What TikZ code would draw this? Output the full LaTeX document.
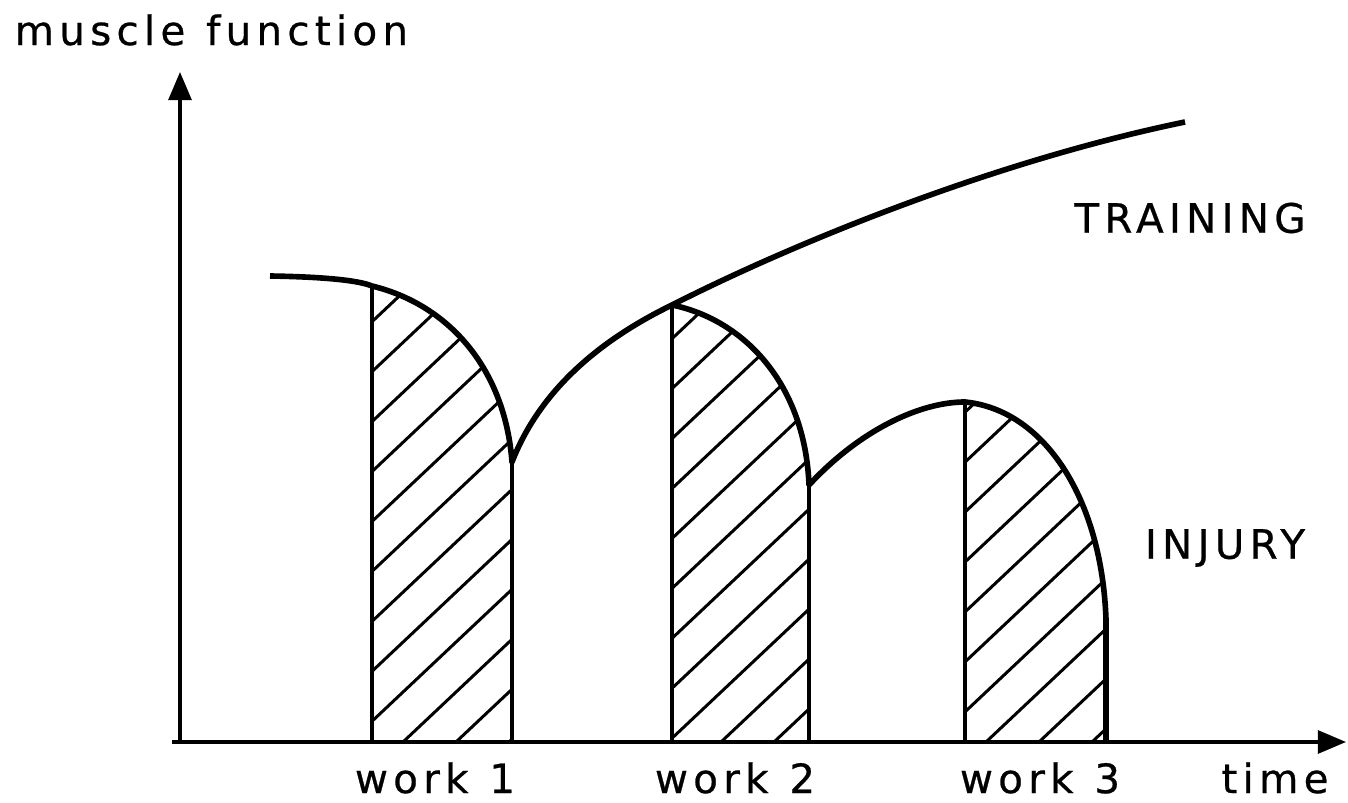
\documentclass[tikz,border=0pt]{standalone}
\usepackage{fontspec}
\newfontfamily\lblfont[LetterSpace=13, WordSpace=1.15, FakeBold=0.6]{DejaVu Sans}
\usetikzlibrary{arrows.meta, positioning}

\begin{document}
\begin{tikzpicture}[
    x=0.1mm, y=-0.1mm,
    >={Triangle[length=8pt, width=6.5pt]},
    axis/.style={line width=1pt, ->},
    curve/.style={line width=1.6pt, line join=round},
    bar/.style={line width=1.1pt},
    hatch/.style={line width=0.85pt},
    lbl/.style={font=\lblfont\fontsize{11.5}{13}\selectfont, inner sep=0pt}
  ]
  \useasboundingbox (0,0) rectangle (1348,803);

  % axes
  \coordinate (o) at (180,742);
  \coordinate (ytop) at (180,72);
  \coordinate (xleft) at (172,742);
  \coordinate (xright) at (1346,742);
  \draw[axis] (o) -- (ytop);
  \draw[axis] (xleft) -- (xright);

  % start and end of each work bout
  \coordinate (w1a) at (372,286);
  \coordinate (w1b) at (512,462);
  \coordinate (w2a) at (672,305);
  \coordinate (w2b) at (809,485);
  \coordinate (w3a) at (965,402);
  \coordinate (w3b) at (1106,620);
  \coordinate (start) at (270,276);
  \coordinate (trainend) at (1185,122);

  % hatching
  \begin{scope}
    \clip (w1a |- o) -- (w1a) .. controls (450,305) and (505,370) .. (w1b) -- (w1b |- o) -- cycle
          (w2a |- o) -- (w2a) .. controls (745,320) and (805,385) .. (w2b) -- (w2b |- o) -- cycle
          (w3a |- o) -- (w3a) .. controls (1045,410) and (1102,500) .. (w3b) -- (w3b |- o) -- cycle;
    \foreach \k in {-12,...,14}
      \draw[hatch] (403+53*\k,742) -- ++(520,-490);
  \end{scope}

  % vertical bars
  \foreach \p in {w1a,w1b,w2a,w2b,w3a,w3b}
    \draw[bar] (\p) -- (\p |- o);

  % muscle function curve
  \draw[curve] (start) .. controls (330,277) and (360,281) .. (w1a)
    .. controls (450,305) and (505,370) .. (w1b)
    .. controls (540,390) and (600,340) .. (w2a)
    .. controls (745,320) and (805,385) .. (w2b)
    .. controls (860,430) and (920,402) .. (w3a)
    .. controls (1045,410) and (1102,500) .. (w3b)
    -- (w3b |- o);
  \draw[curve] (w2a) .. controls (800,240) and (1000,160) .. (trainend);

  % labels
  \node[lbl, anchor=west] (ylabel) at (14,30) {muscle function};
  \node[lbl] (training) at (1190,218) {TRAINING};
  \node[lbl] (injury) at (1225,548) {INJURY};
  \node[lbl] (work1) at (435,778) {work 1};
  \node[lbl] (work2) at (735,778) {work 2};
  \node[lbl] (work3) at (1040,778) {work 3};
  \node[lbl] (xlabel) at (1275,778) {time};

\end{tikzpicture}
\end{document}
